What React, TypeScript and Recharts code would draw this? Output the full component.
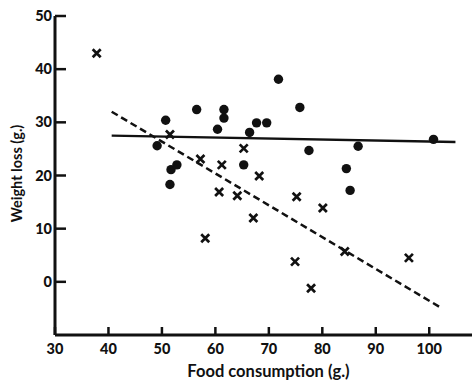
import { ScatterChart, Scatter, XAxis, YAxis } from 'recharts';

// crosses (x) and dots (●), food consumption vs weight loss, grams
const crossFood = [37.8, 51.5, 57.2, 61.2, 60.7, 64.1, 65.3, 68.2, 75.2, 80.1, 67.1, 58.1, 84.2, 96.2, 74.9, 77.9];
const crossLoss = [43.0, 27.7, 23.1, 22.0, 16.9, 16.2, 25.1, 19.9, 16.0, 13.9, 12.0, 8.2, 5.7, 4.5, 3.8, -1.2];
const dotFood = [50.7, 56.5, 61.6, 61.6, 60.4, 49.1, 51.7, 52.8, 51.5, 71.8, 75.8, 67.7, 69.6, 66.4, 77.5, 86.7, 100.8, 65.3, 84.5, 85.2];
const dotLoss = [30.4, 32.4, 32.4, 30.8, 28.7, 25.6, 21.1, 22.0, 18.3, 38.1, 32.8, 29.9, 29.9, 28.1, 24.7, 25.5, 26.8, 22.0, 21.3, 17.2];

// fitted lines (end points)
const solidFitFood = [40.6, 104.9];
const solidFitLoss = [27.5, 26.3];
const dashFitFood = [40.6, 101.9];
const dashFitLoss = [32.0, -4.7];

const xTicks = [30, 40, 50, 60, 70, 80, 90, 100];
const yTicks = [0, 10, 20, 30, 40, 50];

const FONT = 'Lato, sans-serif';

const pair = (xs: number[], ys: number[]) => xs.map((x, i) => ({ x, y: ys[i] }));

const crossData = pair(crossFood, crossLoss);
const dotData = pair(dotFood, dotLoss);
const solidFit = pair(solidFitFood, solidFitLoss);
const dashFit = pair(dashFitFood, dashFitLoss);

const Cross = (p: any) => {
  const { cx, cy } = p;
  const s = 4;
  return (
    <path
      d={`M${cx - s},${cy - s}L${cx + s},${cy + s}M${cx - s},${cy + s}L${cx + s},${cy - s}`}
      stroke="#111"
      strokeWidth={2.7}
    />
  );
};

const Dot = (p: any) => <circle cx={p.cx} cy={p.cy} r={4.7} fill="#111" />;

const Nothing = () => <g />;

const YTick = (p: any) => {
  const { x, y, payload } = p;
  return (
    <g>
      <line x1={x + 4} x2={x + 15} y1={y} y2={y} stroke="#111" strokeWidth={2.5} />
      <text x={x + 1} y={y} dy={5} textAnchor="end" fontFamily={FONT} fontWeight={900} fontSize={14.5} fill="#111">
        {payload.value}
      </text>
    </g>
  );
};

const XTick = (p: any) => {
  const { x, y, payload } = p;
  return (
    <g>
      <line x1={x} x2={x} y1={y - 4} y2={y - 12} stroke="#111" strokeWidth={2.5} />
      <text x={x} y={y} dy={15} textAnchor="middle" fontFamily={FONT} fontWeight={900} fontSize={14.5} fill="#111">
        {payload.value}
      </text>
    </g>
  );
};

const YLabel = (p: any) => {
  const { viewBox } = p;
  const cx = viewBox.x + 16;
  const cy = viewBox.y + viewBox.height / 2 - 2;
  return (
    <text
      transform={`translate(${cx},${cy}) rotate(-90)`}
      textAnchor="middle"
      dominantBaseline="central"
      fontFamily={FONT}
      fontWeight={700}
      fontSize={14.5}
      fill="#111"
    >
      Weight loss (g.)
    </text>
  );
};

export default function App() {
  return (
    <div style={{ position: 'absolute', left: 0, top: 0, width: 472, height: 382, background: '#fff' }}>
      <ScatterChart width={472} height={382} margin={{ top: 16, right: 0, bottom: 0, left: 0 }}>
        <XAxis
          type="number"
          dataKey="x"
          domain={[30, 108]}
          ticks={xTicks}
          tickLine={false}
          tickSize={0}
          tickMargin={4}
          height={47}
          axisLine={{ stroke: '#111', strokeWidth: 3 }}
          tick={<XTick />}
          label={{
            value: 'Food consumption (g.)',
            position: 'insideBottom',
            offset: 5,
            dx: 5,
            fontFamily: FONT,
            fontWeight: 700,
            fontSize: 16.5,
            fill: '#111',
          }}
        />
        <YAxis
          type="number"
          dataKey="y"
          domain={[-10, 50]}
          ticks={yTicks}
          tickLine={false}
          tickSize={0}
          tickMargin={4}
          width={55}
          axisLine={{ stroke: '#111', strokeWidth: 3 }}
          tick={<YTick />}
          label={{ content: <YLabel /> }}
        />
        <Scatter data={solidFit} shape={<Nothing />} line={{ stroke: '#111', strokeWidth: 2.5 }} isAnimationActive={false} />
        <Scatter
          data={dashFit}
          shape={<Nothing />}
          line={{ stroke: '#111', strokeWidth: 2.5, strokeDasharray: '7 4' }}
          isAnimationActive={false}
        />
        <Scatter data={dotData} shape={<Dot />} isAnimationActive={false} />
        <Scatter data={crossData} shape={<Cross />} isAnimationActive={false} />
      </ScatterChart>
    </div>
  );
}
